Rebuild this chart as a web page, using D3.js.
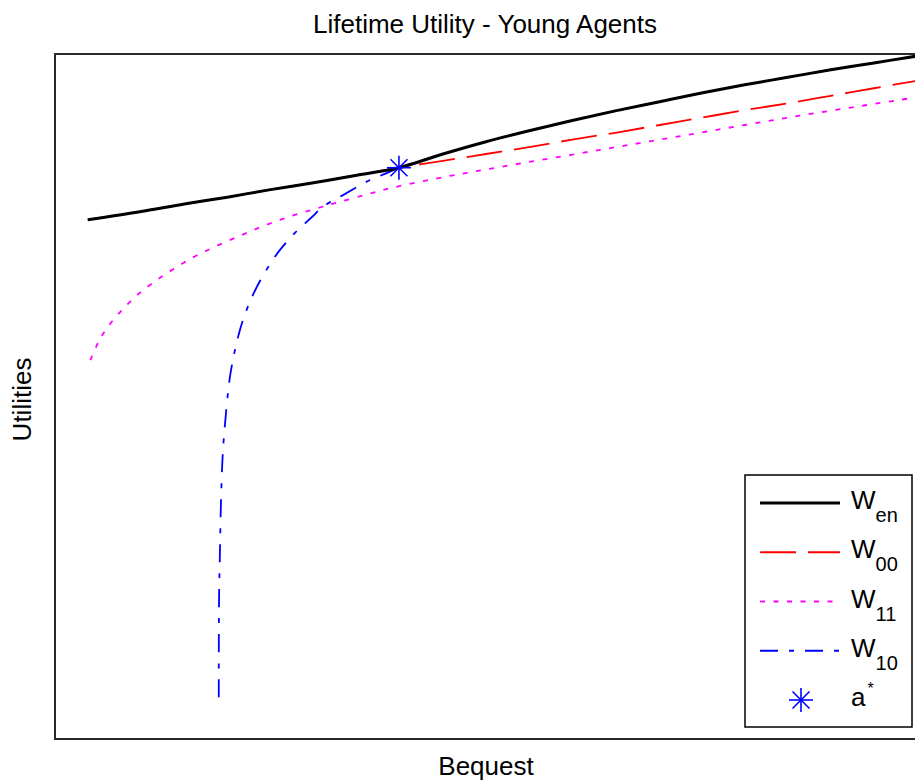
<!DOCTYPE html>
<html>
<head>
<meta charset="utf-8">
<script src="https://cdn.jsdelivr.net/npm/d3@7"></script>
<style>
  html, body { margin: 0; padding: 0; background: #fff; }
  svg { display: block; font-family: "Liberation Sans", Arial, sans-serif; }
</style>
</head>
<body>
<svg id="chart" width="915" height="781"></svg>
<script>
// ---- data ----
const bequestEn = [0.38, 1.0, 1.5, 2.0, 2.5, 3.0, 3.5, 3.99, 4.5, 5.0, 5.5, 6.0, 6.5, 7.0, 7.5, 8.0, 8.5, 9.0, 9.5, 10.0];
const wEn  = [7.58, 7.70, 7.81, 7.91, 8.02, 8.12, 8.23, 8.34, 8.54, 8.72, 8.88, 9.03, 9.17, 9.30, 9.43, 9.55, 9.66, 9.77, 9.87, 9.97];
const w00  = [7.58, 7.70, 7.81, 7.91, 8.02, 8.12, 8.23, 8.34, 8.44, 8.54, 8.64, 8.75, 8.85, 8.96, 9.07, 9.18, 9.28, 9.39, 9.50, 9.61];

const bequest11 = [0.41, 0.49, 0.56, 0.67, 0.79, 0.91, 1.02, 1.18, 1.31, 1.60, 1.88, 2.17, 2.44, 2.73, 3.02, 3.27, 3.62, 3.92, 4.58, 5.16, 6.32, 7.48, 8.64, 9.80, 10.0];
const w11       = [5.53, 5.76, 5.92, 6.11, 6.28, 6.43, 6.55, 6.70, 6.81, 7.03, 7.20, 7.36, 7.50, 7.63, 7.74, 7.83, 7.95, 8.05, 8.22, 8.35, 8.60, 8.85, 9.10, 9.33, 9.37];

const bequest10 = [1.900, 1.903, 1.914, 1.926, 1.949, 1.995, 2.030, 2.088, 2.152, 2.210, 2.280, 2.384, 2.488, 2.610, 2.784, 2.981, 3.109, 3.341, 3.654, 3.828, 3.99, 4.5, 5.0, 5.5, 6.0, 6.5, 7.0, 7.5, 8.0, 8.5, 9.0, 9.5, 10.0];
const w10       = [0.61, 2.03, 2.76, 3.49, 4.22, 4.91, 5.29, 5.68, 6.00, 6.22, 6.44, 6.70, 6.92, 7.14, 7.39, 7.62, 7.77, 7.94, 8.16, 8.25, 8.34, 8.54, 8.72, 8.88, 9.03, 9.17, 9.30, 9.43, 9.55, 9.66, 9.77, 9.87, 9.97];

const aStar = [{ x: 3.99, y: 8.34 }];

const titleText = "Lifetime Utility - Young Agents";
const xLabel = "Bequest";
const yLabel = "Utilities";
const legendItems = [
  { key: "en",  main: "W", sub: "en", sup: null, color: "#000000", width: 3,   dash: null,          marker: false },
  { key: "00",  main: "W", sub: "00", sup: null, color: "#ff0000", width: 1.8, dash: "36,12",       marker: false },
  { key: "11",  main: "W", sub: "11", sup: null, color: "#ff00ff", width: 1.8, dash: "5,8.5",       marker: false },
  { key: "10",  main: "W", sub: "10", sup: null, color: "#0000ff", width: 1.8, dash: "18,11,5,11",  marker: false },
  { key: "a",   main: "a", sub: null, sup: "*",  color: "#0000ff", width: 1.5, dash: null,          marker: true }
];

// ---- layout ----
const svg = d3.select("#chart");
const mLeft = 55, mRight = 917, mTop = 54, mBottom = 739;
const x = d3.scaleLinear().domain([0, 10]).range([mLeft, mRight]);
const y = d3.scaleLinear().domain([0, 10]).range([mBottom, mTop]);

// plot box
svg.append("rect")
  .attr("x", mLeft).attr("y", mTop)
  .attr("width", mRight - mLeft).attr("height", mBottom - mTop)
  .attr("fill", "#fff").attr("stroke", "#2a2a2a").attr("stroke-width", 2);

svg.append("clipPath").attr("id", "clip")
  .append("rect").attr("x", mLeft).attr("y", mTop - 2).attr("width", mRight - mLeft).attr("height", mBottom - mTop + 4);

const line = d3.line().x(d => x(d[0])).y(d => y(d[1])).curve(d3.curveCatmullRom.alpha(0.5));
const g = svg.append("g").attr("clip-path", "url(#clip)");

function drawSeries(xs, ys, color, width, dash) {
  g.append("path")
    .datum(xs.map((v, i) => [v, ys[i]]))
    .attr("d", line)
    .attr("fill", "none")
    .attr("stroke", color)
    .attr("stroke-width", width)
    .attr("stroke-dasharray", dash)
    .attr("stroke-linejoin", "round");
}

drawSeries(bequest11, w11, "#ff00ff", 1.8, "5,8.5");
drawSeries(bequest10, w10, "#0000ff", 1.8, "18,11,5,11");
drawSeries(bequestEn, w00, "#ff0000", 1.8, "36,12");
drawSeries(bequestEn, wEn, "#000000", 3, null);

// asterisk marker
function asterisk(sel, cx, cy, r, color) {
  const ang = [0, 45, 90, 135];
  ang.forEach(a => {
    const rad = a * Math.PI / 180;
    sel.append("line")
      .attr("x1", cx - r * Math.cos(rad)).attr("y1", cy - r * Math.sin(rad))
      .attr("x2", cx + r * Math.cos(rad)).attr("y2", cy + r * Math.sin(rad))
      .attr("stroke", color).attr("stroke-width", 1.6);
  });
}
aStar.forEach(p => asterisk(svg, x(p.x), y(p.y), 12, "#0000ff"));

// title and labels
svg.append("text")
  .attr("x", (mLeft + mRight) / 2 - 1).attr("y", 33)
  .attr("text-anchor", "middle").attr("font-size", 26).attr("fill", "#000")
  .text(titleText);

svg.append("text")
  .attr("x", (mLeft + mRight) / 2).attr("y", 775)
  .attr("text-anchor", "middle").attr("font-size", 26).attr("fill", "#000")
  .text(xLabel);

svg.append("text")
  .attr("transform", `translate(31,${(mTop + mBottom) / 2 + 3}) rotate(-90)`)
  .attr("text-anchor", "middle").attr("font-size", 26).attr("fill", "#000")
  .text(yLabel);

// legend
const lg = svg.append("g");
lg.append("rect")
  .attr("x", 745).attr("y", 475).attr("width", 167).attr("height", 252)
  .attr("fill", "#fff").attr("stroke", "#000").attr("stroke-width", 1.5);

const rowY = d3.scalePoint().domain(legendItems.map(d => d.key)).range([503, 700]);
legendItems.forEach(d => {
  const yy = rowY(d.key);
  if (d.marker) {
    asterisk(lg, 801, yy, 12, d.color);
  } else {
    lg.append("line")
      .attr("x1", 760).attr("x2", 840).attr("y1", yy).attr("y2", yy)
      .attr("stroke", d.color).attr("stroke-width", d.width)
      .attr("stroke-dasharray", d.dash);
  }
  const t = lg.append("text").attr("x", 851).attr("y", yy + 6)
    .attr("font-size", 26).attr("fill", "#000");
  t.append("tspan").text(d.main);
  if (d.sub) t.append("tspan").attr("dy", 13).attr("font-size", 20).text(d.sub);
  if (d.sup) t.append("tspan").attr("dx", 2).attr("dy", -12).attr("font-size", 16).text(d.sup);
});
</script>
</body>
</html>
